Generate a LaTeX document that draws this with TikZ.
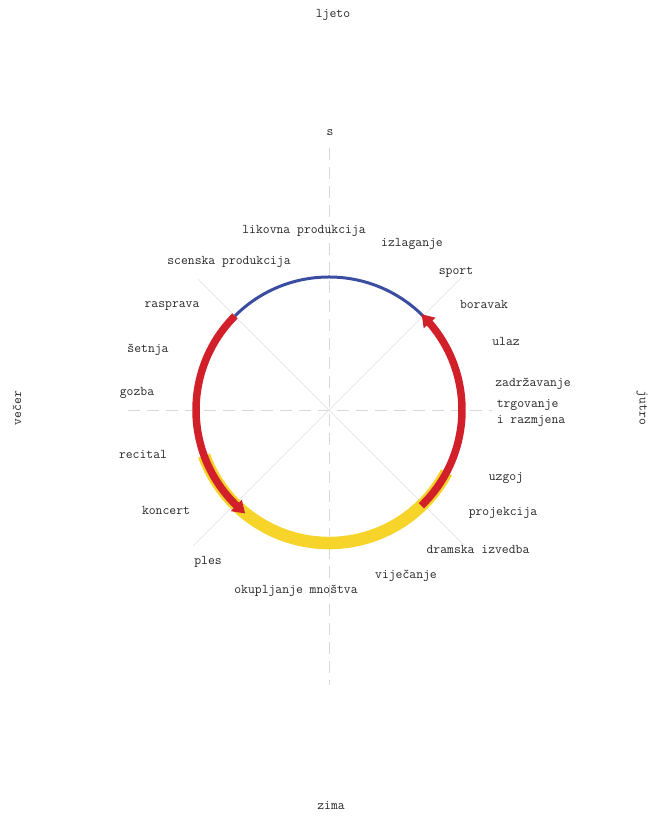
\documentclass[tikz,border=0pt]{standalone}
\usepackage{fontspec}
\usetikzlibrary{arrows.meta,bending}
\definecolor{cblue}{HTML}{3B4DA0}
\definecolor{cred}{HTML}{D2202A}
\definecolor{cyellow}{HTML}{F6D42A}
\definecolor{cgrid}{HTML}{D8D8D8}
\tikzset{
  lbl/.style={font=\ttfamily\fontsize{13.3}{15.5}\selectfont, text=black!85, inner sep=1pt, align=left},
  axis/.style={draw=cgrid, line width=0.8pt, dash pattern=on 12pt off 7pt},
  diag/.style={draw=cgrid!80, line width=0.6pt},
  bluearc/.style={draw=cblue, line width=3pt},
  redarc/.style={draw=cred, line width=7.5pt},
  yelarc/.style={draw=cyellow, line width=12.5pt},
  redtip/.style={-{Triangle[length=12pt,width=15pt,bend]}}
}
\begin{document}
\begin{tikzpicture}[x=1pt,y=1pt]
\useasboundingbox (0,0) rectangle (650,818);
\coordinate (c) at (329,408);
% axes
\draw[axis] (329,670) -- (329,133);
\draw[axis] (128,408) -- (492,408);
\draw[diag] (c) ++(135:185) -- ++(-45:376);
\draw[diag] (c) ++(45:188) -- ++(225:380);
% arcs
\draw[yelarc] (c) ++(200:133) arc[start angle=200, end angle=332, radius=133];
\draw[bluearc] (c) ++(45:133) arc[start angle=45, end angle=135, radius=133];
\draw[redarc, redtip] (c) ++(135:133) arc[start angle=135, end angle=231, radius=133];
\draw[redarc, redtip] (c) ++(-46:133) arc[start angle=-46, end angle=46, radius=133];
% labels
\node[lbl] (ljeto) at (333,803) {ljeto};
\node[lbl] (s) at (330,685) {s};
\node[lbl] (likovna) at (304,587) {likovna produkcija};
\node[lbl] (izlaganje) at (412,574) {izlaganje};
\node[lbl] (scenska) at (229,556) {scenska produkcija};
\node[lbl] (sport) at (456,546) {sport};
\node[lbl] (rasprava) at (172,512) {rasprava};
\node[lbl] (boravak) at (484,514) {boravak};
\node[lbl] (ulaz) at (506,477) {ulaz};
\node[lbl] (setnja) at (148,468) {šetnja};
\node[lbl] (zadrz) at (533,434) {zadržavanje};
\node[lbl] (gozba) at (137,425) {gozba};
\node[lbl, rotate=90] (vecer) at (17,410) {večer};
\node[lbl, rotate=-90] (jutro) at (642,410) {jutro};
\node[lbl] (trgov) at (531,405) {trgovanje\\i razmjena};
\node[lbl] (recital) at (143,364) {recital};
\node[lbl] (uzgoj) at (506,340) {uzgoj};
\node[lbl] (koncert) at (166,308) {koncert};
\node[lbl] (projekcija) at (503,305) {projekcija};
\node[lbl] (ples) at (208,256) {ples};
\node[lbl] (dramska) at (478,269) {dramska izvedba};
\node[lbl] (vijecanje) at (406,242) {viječanje};
\node[lbl] (okupljanje) at (296,227) {okupljanje mnoštva};
\node[lbl] (zima) at (331,12) {zima};
\end{tikzpicture}
\end{document}
